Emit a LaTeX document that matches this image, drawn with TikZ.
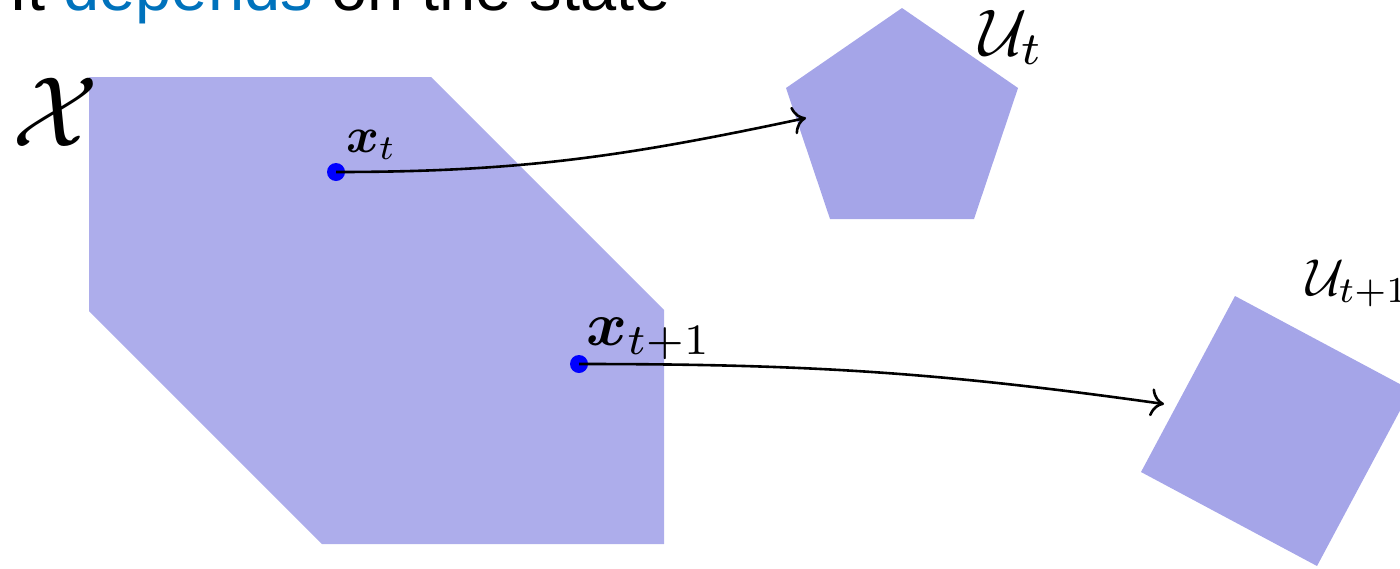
\documentclass[tikz,border=0pt]{standalone}
\usepackage{amsmath}
\usepackage{bm}
\usepackage{fontspec}
\newfontfamily\headfont{Liberation Sans}
\usetikzlibrary{
  arrows.meta % For arrow tips
}
\definecolor{setX}{RGB}{173,173,235}
\definecolor{setU}{RGB}{165,165,232}
\definecolor{hlblue}{RGB}{0,114,188}

\begin{document}
\begin{tikzpicture}[
      x=0.5pt, y=-0.5pt, % one unit = one pixel of the slide
      >={To[scale=1.5]}, % Default arrow tip
      stateset/.style={fill=setX, draw=none}, % Style for the state set
      inputset/.style={fill=setU, draw=none}, % Style for the input sets
      statedot/.style={circle, fill=blue, inner sep=0pt, minimum size=9pt}, % Style for states
      policy/.style={->, line width=1.3pt}, % Style for the maps
      lbl/.style={inner sep=0pt, anchor=base west}, % Style for labels
    ]

    % Rahmen
    \useasboundingbox (0,0) rectangle (1400,568);
    \clip (0,0) rectangle (1400,568);

    % Titel
    \node[lbl] (title) at (9,10)
    {\headfont\fontsize{32.5}{38}\selectfont It \textcolor{hlblue}{depends} on the state};

    % Zustandsmenge
    \coordinate (X1) at (89,77);
    \coordinate (X2) at (431,77);
    \coordinate (X3) at (664,310);
    \coordinate (X4) at (664,544);
    \coordinate (X5) at (322,544);
    \coordinate (X6) at (89,311);
    \fill[stateset] (X1) -- (X2) -- (X3) -- (X4) -- (X5) -- (X6) -- cycle;

    % Eingangsmengen
    \coordinate (P1) at (902,8);
    \coordinate (P2) at (1018,88);
    \coordinate (P3) at (974,219);
    \coordinate (P4) at (830,219);
    \coordinate (P5) at (786,88);
    \fill[inputset] (P1) -- (P2) -- (P3) -- (P4) -- (P5) -- cycle;

    \coordinate (Q1) at (1235,296);
    \coordinate (Q2) at (1411,390);
    \coordinate (Q3) at (1317,566);
    \coordinate (Q4) at (1141,472);
    \fill[inputset] (Q1) -- (Q2) -- (Q3) -- (Q4) -- cycle;

    % Beschriftungen der Mengen
    \node[lbl, scale=5] (Xlabel) at (10,146) {$\mathcal{X}$};
    \node[lbl, scale=3.3] (Utlabel) at (978,55) {$\mathcal{U}_t$};
    \node[lbl, scale=2.6] (Ut1label) at (1305,295) {$\mathcal{U}_{t+1}$};

    % Zustaende
    \node[statedot] (xt) at (336,172) {};
    \node[statedot] (xt1) at (579,364) {};
    \node[lbl, scale=2.5] (xtlabel) at (345,152) {$\bm{x}_t$};
    \node[lbl, scale=3.1] (xt1label) at (585,345) {$\bm{x}_{t+1}$};

    % Ziele der Pfeile
    \coordinate (ut) at (806,118);
    \coordinate (ut1) at (1164,404);

    % Pfeile
    \draw[policy] (xt.center) to[out=0, in=192] (ut);
    \draw[policy] (xt1.center) to[out=0, in=172] (ut1);

  \end{tikzpicture}
\end{document}
